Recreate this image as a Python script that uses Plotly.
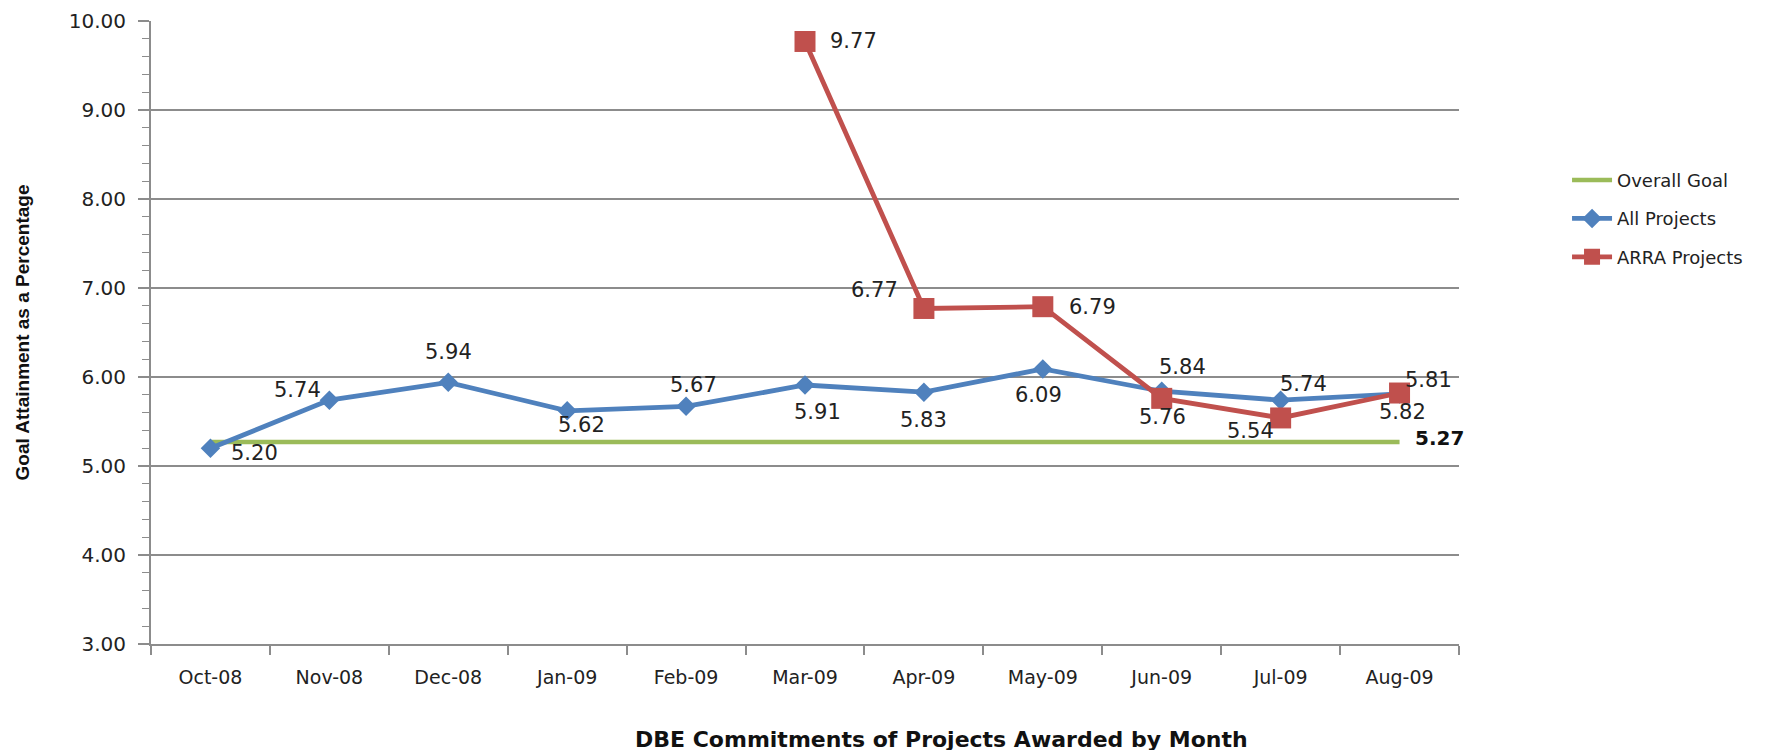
import plotly.graph_objects as go

# ---------------- data ----------------
months = ["Oct-08", "Nov-08", "Dec-08", "Jan-09", "Feb-09", "Mar-09",
          "Apr-09", "May-09", "Jun-09", "Jul-09", "Aug-09"]
overall_goal = [5.27, 5.27, 5.27, 5.27, 5.27, 5.27, 5.27, 5.27, 5.27, 5.27, 5.27]
all_projects = [5.20, 5.74, 5.94, 5.62, 5.67, 5.91, 5.83, 6.09, 5.84, 5.74, 5.81]
arra_projects = [None, None, None, None, None, 9.77, 6.77, 6.79, 5.76, 5.54, 5.82]
y_ticks = [3, 4, 5, 6, 7, 8, 9, 10]

# ---------------- styles ----------------
GREEN = "#9BBB59"
BLUE = "#4F81BD"
RED = "#C0504D"
GRID = "#8c8c8c"
TXT = "#222222"

# label offsets in pixels (dx right, dy down) per point
all_dx = [44, -32, 0, 14, 7, 12, 0, -4, 21, 23, 29]
all_dy = [5, -10, -30, 14, -21, 27, 28, 26, -24, -16, -14]
arra_dx = [0, 0, 0, 0, 0, 48, -49, 50, 1, -30, 3]
arra_dy = [0, 0, 0, 0, 0, 0, -18, 0, 19, 13, 19]

fig = go.Figure()

fig.add_trace(go.Scatter(
    x=months, y=overall_goal, name="Overall Goal", mode="lines",
    line=dict(color=GREEN, width=4.5), legendgroup="g1"))
fig.add_trace(go.Scatter(
    x=months, y=all_projects, name="All Projects", mode="lines+markers",
    line=dict(color=BLUE, width=4.8),
    marker=dict(symbol="diamond", size=15, color=BLUE), legendgroup="g2"))
fig.add_trace(go.Scatter(
    x=months, y=arra_projects, name="ARRA Projects", mode="lines+markers",
    line=dict(color=RED, width=4.8),
    marker=dict(symbol="square", size=21, color=RED), legendgroup="g3"))

label_font = dict(family="DejaVu Sans", size=21, color=TXT)
annotations = []
for m, v, dx, dy in zip(months, all_projects, all_dx, all_dy):
    annotations.append(dict(x=m, y=v, xref="x", yref="y", text=f"{v:.2f}",
                            showarrow=False, xshift=dx, yshift=-dy,
                            xanchor="center", yanchor="middle", font=label_font))
for m, v, dx, dy in zip(months, arra_projects, arra_dx, arra_dy):
    if v is None:
        continue
    annotations.append(dict(x=m, y=v, xref="x", yref="y", text=f"{v:.2f}",
                            showarrow=False, xshift=dx, yshift=-dy,
                            xanchor="center", yanchor="middle", font=label_font))
# goal label at last point
annotations.append(dict(x=months[-1], y=overall_goal[-1], xref="x", yref="y",
                        text=f"<b>{overall_goal[-1]:.2f}</b>", showarrow=False,
                        xshift=40, yshift=4, xanchor="center", yanchor="middle",
                        font=dict(family="DejaVu Sans", size=20, color="#111111")))
# x axis title
annotations.append(dict(x=0.604, y=-0.1526, xref="paper", yref="paper",
                        text="<b>DBE Commitments of Projects Awarded by Month</b>",
                        showarrow=False, xanchor="center", yanchor="middle",
                        font=dict(family="DejaVu Sans", size=22, color="#111111")))

fig.update_layout(
    width=1788, height=750,
    margin=dict(l=143, r=337, t=13, b=114, autoexpand=False),
    paper_bgcolor="white", plot_bgcolor="white",
    showlegend=True,
    legend=dict(x=1.0826, xanchor="left", y=0.774, yanchor="top",
                font=dict(family="DejaVu Sans", size=18, color=TXT),
                traceorder="grouped", tracegroupgap=12,
                bgcolor="rgba(0,0,0,0)", itemwidth=40),
    annotations=annotations,
)

fig.update_xaxes(
    type="category", range=[-0.5, 10.5], showgrid=False,
    showline=True, linecolor=GRID, linewidth=2,
    ticks="outside", tickson="boundaries", ticklen=9, tickcolor=GRID, tickwidth=1.5,
    tickfont=dict(family="DejaVu Sans", size=19, color=TXT),
    ticklabelstandoff=15, zeroline=False,
)
fig.update_yaxes(
    range=[3, 10], tickvals=y_ticks, tickformat=".2f",
    showgrid=True, gridcolor=GRID, gridwidth=1.5,
    showline=True, linecolor=GRID, linewidth=2,
    ticks="outside", ticklen=11, tickcolor=GRID, tickwidth=1.5,
    minor=dict(dtick=0.2, ticks="outside", ticklen=7, tickcolor=GRID,
               tickwidth=1.2, showgrid=False),
    tickfont=dict(family="DejaVu Sans", size=20, color=TXT),
    ticklabelstandoff=8, zeroline=False,
    title=dict(text="<b>Goal Attainment as a Percentage</b>",
               font=dict(family="Liberation Sans Narrow, Liberation Sans", size=19, color="#111111"),
               standoff=34),
)

fig.write_html("out.html")
